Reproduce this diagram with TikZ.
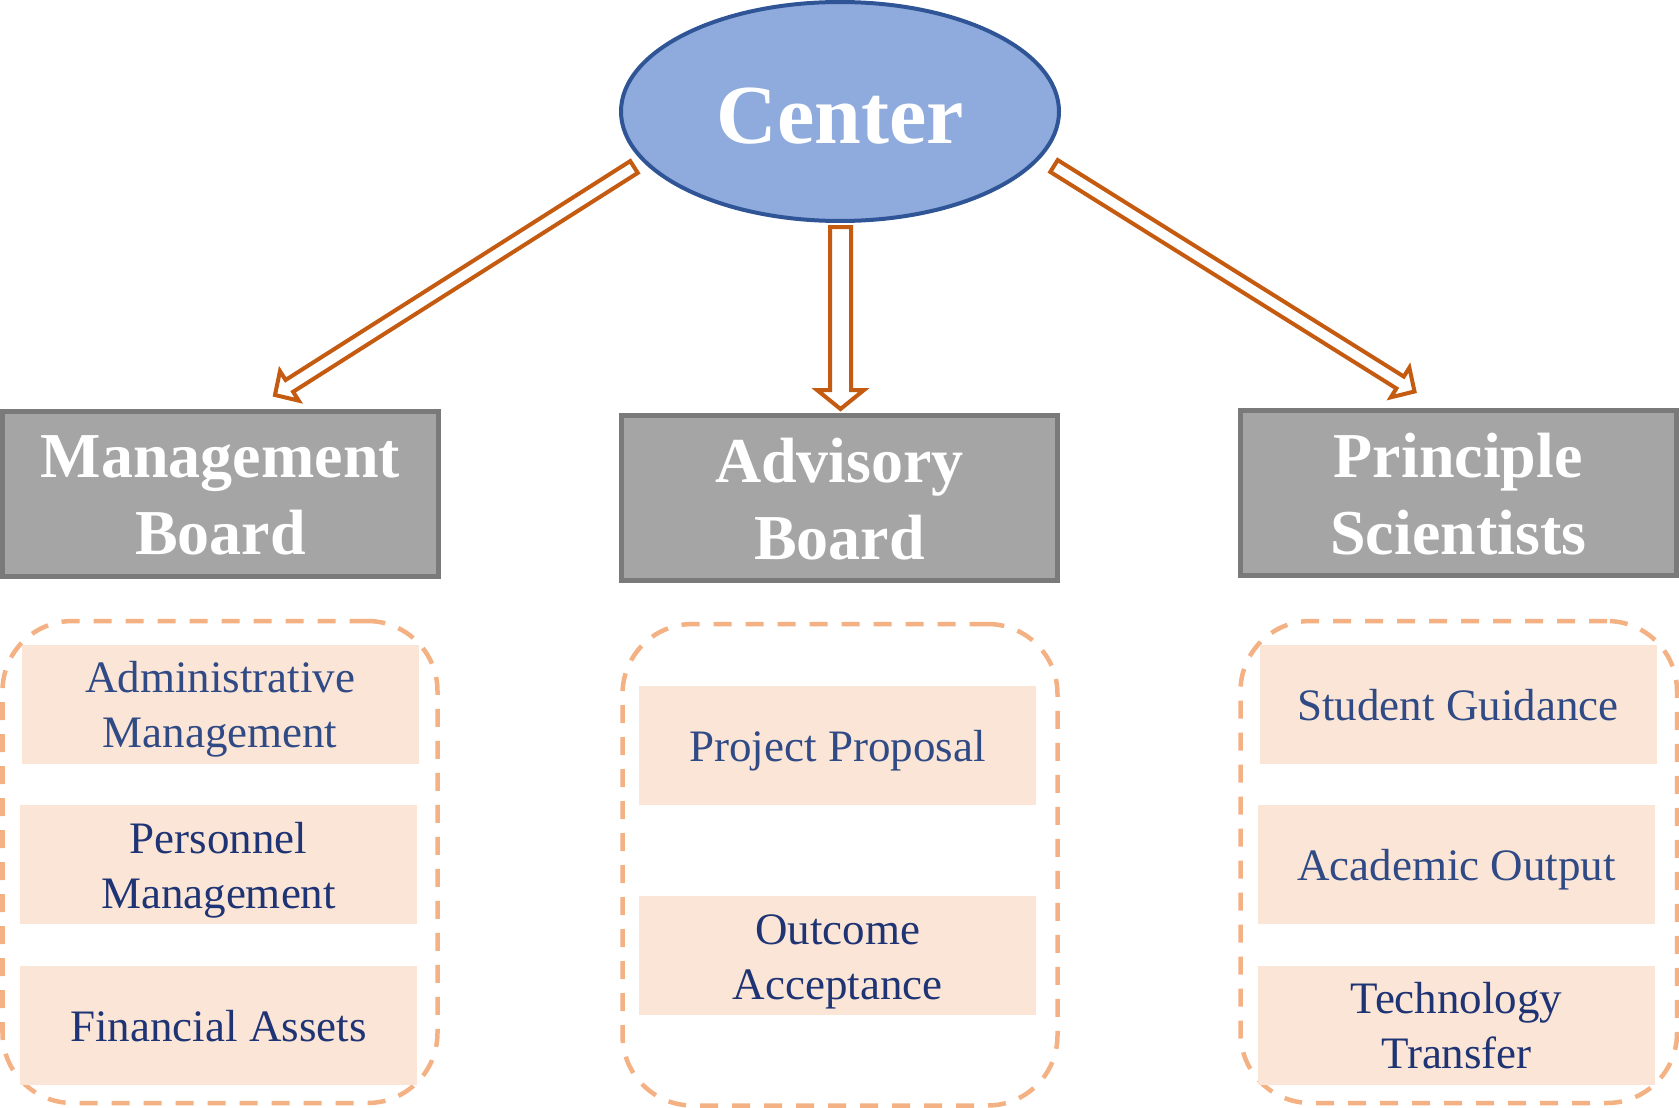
\documentclass[tikz,border=0pt]{standalone}
\usepackage{fontspec}
\setmainfont{Liberation Serif}
\usetikzlibrary{calc,shapes.geometric}
\definecolor{ellfill}{HTML}{8FAADC}
\definecolor{ellline}{HTML}{2F5597}
\definecolor{arrowc}{HTML}{C55A11}
\definecolor{boardfill}{HTML}{A5A5A5}
\definecolor{boardline}{HTML}{7A7A7A}
\definecolor{itemfill}{HTML}{FBE5D6}
\definecolor{groupline}{HTML}{F4B183}
\definecolor{txtA}{HTML}{2F4A85}
\definecolor{txtB}{HTML}{1F3474}
\newcommand{\istrut}{\rule[-10pt]{0pt}{52pt}}
\newcommand{\bstrut}{\rule[-5pt]{0pt}{55pt}}
\newcommand{\cstrut}{\rule[-10pt]{0pt}{84pt}}
\newcommand{\blockarrow}[5]{%
  \coordinate (bah) at ($(#2)!#5!(#1)$);
  \draw[arrowline] ($(#1)!#3!90:(#2)$) -- ($(bah)!#3!-90:(#1)$) -- ($(bah)!#4!-90:(#1)$) -- (#2) -- ($(bah)!#4!90:(#1)$) -- ($(bah)!#3!90:(#1)$) -- ($(#1)!#3!-90:(#2)$) -- cycle;}
\tikzset{
  hub/.style={ellipse, draw=ellline, fill=ellfill, line width=4pt, minimum width=438pt, minimum height=219pt, inner sep=0pt, text=white, font=\fontsize{84}{100}\selectfont\bfseries},
  board/.style={rectangle, draw=boardline, fill=boardfill, line width=5pt, minimum width=436pt, minimum height=165pt, inner sep=0pt, text=white, align=center, font=\fontsize{64}{77}\selectfont\bfseries},
  item/.style={rectangle, fill=itemfill, minimum width=397pt, minimum height=119pt, inner sep=0pt, align=center, font=\fontsize{45}{55}\selectfont},
  group/.style={rectangle, draw=groupline, line width=4.5pt, dash pattern=on 18pt off 14pt, rounded corners=70pt, inner sep=0pt},
  arrowline/.style={draw=arrowc, fill=white, line width=4pt, line join=miter}
}
\begin{document}
\begin{tikzpicture}[x=1pt,y=-1pt]
\useasboundingbox (0,0) rectangle (1679,1108);
% groups
\node[group, minimum width=435pt, minimum height=482pt] (g1) at (220,862) {};
\node[group, minimum width=435pt, minimum height=481.5pt] (g2) at (840,864.75) {};
\node[group, minimum width=436.5pt, minimum height=482pt] (g3) at (1458.75,862) {};
% items
\node[item, text=txtA] (l1) at (220,704) {\istrut Administrative\\\istrut Management};
\node[item, text=txtB] (l2) at (218.5,864.5) {\istrut Personnel\\\istrut Management};
\node[item, text=txtB] (l3) at (218.5,1025) {\istrut Financial Assets};
\node[item, text=txtA] (m1) at (837.5,745.5) {\istrut Project Proposal};
\node[item, text=txtB] (m2) at (837.5,955.5) {\istrut Outcome\\\istrut Acceptance};
\node[item, text=txtA] (r1) at (1458,704) {\istrut Student Guidance};
\node[item, text=txtA] (r2) at (1456.5,864.5) {\istrut Academic Output};
\node[item, text=txtB] (r3) at (1456.5,1025) {\istrut Technology\\\istrut Transfer};
% boards
\node[board] (b1) at (220.5,493.5) {\bstrut Management\\\bstrut Board};
\node[board] (b2) at (839.5,498) {\bstrut Advisory\\\bstrut Board};
\node[board, minimum width=435.5pt] (b3) at (1458.3,493) {\bstrut Principle\\\bstrut Scientists};
% center
\node[hub] (c) at (840,111.5) {\cstrut Center};
% arrows
\coordinate (als) at (634,167);
\coordinate (ale) at (275,395);
\coordinate (ams) at (840.5,227);
\coordinate (ame) at (840.5,409);
\coordinate (ars) at (1054,166);
\coordinate (are) at (1414.5,391.5);
\blockarrow{als}{ale}{7pt}{17.5pt}{17pt}
\blockarrow{ams}{ame}{10.5pt}{23.5pt}{19pt}
\blockarrow{ars}{are}{7pt}{17.5pt}{17pt}
\end{tikzpicture}
\end{document}
